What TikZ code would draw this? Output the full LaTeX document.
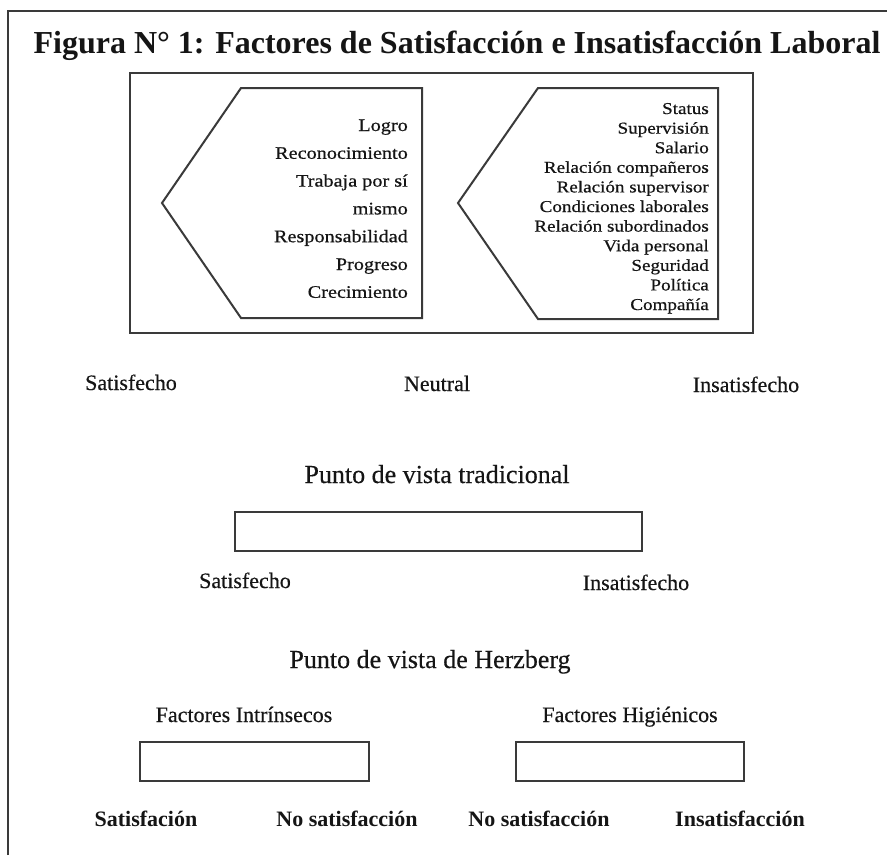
\documentclass[tikz,border=0pt]{standalone}
\usepackage{fontspec}
\setmainfont{Liberation Serif}
\newfontfamily\widefont[FakeStretch=1.15,FakeBold=0.6]{Liberation Serif}
\newfontfamily\lblfont[FakeBold=0.4]{Liberation Serif}
\definecolor{ink}{HTML}{151515}
\definecolor{frame}{HTML}{3A3A3A}
\tikzset{
  lbl/.style={anchor=base, inner sep=0pt, text=ink, font=\lblfont\fontsize{22}{26}\selectfont},
  blbl/.style={anchor=base, inner sep=0pt, text=ink, font=\fontsize{22}{26}\selectfont\bfseries},
  head/.style={lbl, font=\lblfont\fontsize{26}{30}\selectfont},
  lefttxt/.style={anchor=base east, inner sep=0pt, text=ink, font=\widefont\fontsize{17.6}{20}\selectfont},
  righttxt/.style={anchor=base east, inner sep=0pt, text=ink, font=\widefont\fontsize{16.6}{19}\selectfont},
  boxline/.style={draw=frame, line width=2pt},
}
\begin{document}
\begin{tikzpicture}[x=1pt,y=-1pt]
\useasboundingbox (0,0) rectangle (887,855);
\fill[white] (0,0) rectangle (887,855);
% outer frame (cropped)
\draw[frame, line width=2.2pt] (8,855) -- (8,11) -- (887,11);
% title
\node[anchor=base, inner sep=0pt, text=ink, font=\fontsize{32}{36}\selectfont\bfseries] (title) at (457,53) {Figura N° 1: Factores de Satisfacción e Insatisfacción Laboral};
% big box
\draw[boxline] (130,73) rectangle (753,333);
% left pentagon
\draw[boxline, line join=miter] (241,88) -- (422,88) -- (422,318) -- (241,318) -- (162,203) -- cycle;
% right pentagon
\draw[boxline, line join=miter] (538,88) -- (718,88) -- (718,319) -- (538,319) -- (458,203) -- cycle;
% left texts
\foreach \t [count=\i] in {Logro,Reconocimiento,Trabaja por sí,mismo,Responsabilidad,Progreso,Crecimiento}
  \node[lefttxt] (lt\i) at (408,{131+27.8*(\i-1)}) {\t};
% right texts
\foreach \t [count=\i] in {Status,Supervisión,Salario,Relación compañeros,Relación supervisor,Condiciones laborales,Relación subordinados,Vida personal,Seguridad,Política,Compañía}
  \node[righttxt] (rt\i) at (709,{114+19.6*(\i-1)}) {\t};
% scale labels
\node[lbl] (sat1) at (131,390) {Satisfecho};
\node[lbl] (neu) at (437,391) {Neutral};
\node[lbl] (ins1) at (746,392) {Insatisfecho};
% traditional view
\node[head] (trad) at (437,483) {Punto de vista tradicional};
\draw[boxline] (235,512) rectangle (642,551);
\node[lbl] (sat2) at (245,588) {Satisfecho};
\node[lbl] (ins2) at (636,590) {Insatisfecho};
% Herzberg view
\node[head] (herz) at (430,668) {Punto de vista de Herzberg};
\node[lbl] (fint) at (244,722) {Factores Intrínsecos};
\node[lbl] (fhig) at (630,722) {Factores Higiénicos};
\draw[boxline] (140,742) rectangle (369,781);
\draw[boxline] (516,742) rectangle (744,781);
\node[blbl] (b1) at (146,826) {Satisfación};
\node[blbl] (b2) at (347,826) {No satisfacción};
\node[blbl] (b3) at (539,826) {No satisfacción};
\node[blbl] (b4) at (740,826) {Insatisfacción};
\end{tikzpicture}
\end{document}
